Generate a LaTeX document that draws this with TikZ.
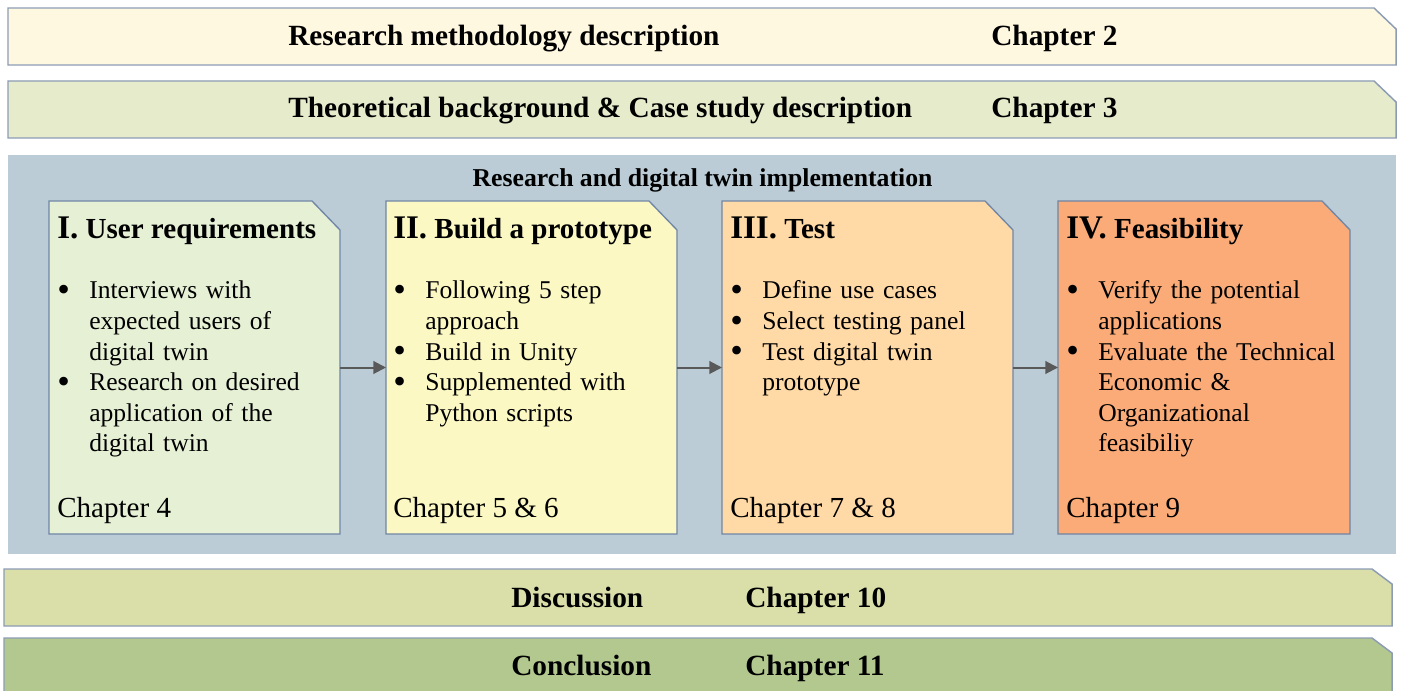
\documentclass[tikz,border=0pt]{standalone}
\usepackage{fontspec}
\setmainfont{Liberation Serif}
\usetikzlibrary{arrows.meta,calc,fit}
\definecolor{barA}{HTML}{FFF8E1}
\definecolor{barB}{HTML}{E6ECCB}
\definecolor{barC}{HTML}{DADFAA}
\definecolor{barD}{HTML}{B3C88F}
\definecolor{panelblue}{HTML}{BBCCD6}
\definecolor{cardA}{HTML}{E6F0D5}
\definecolor{cardB}{HTML}{FBF8C4}
\definecolor{cardC}{HTML}{FFDAA6}
\definecolor{cardD}{HTML}{FAAB78}
\definecolor{barborder}{HTML}{8C9CB5}
\definecolor{cardborder}{HTML}{6F86A6}
\definecolor{arrowgray}{HTML}{595959}
\newcommand{\bul}{\makebox[24pt][l]{\raisebox{-2pt}{\fontsize{27}{27}\selectfont •}}}
\newcommand{\ind}{\hspace*{24pt}}
\tikzset{
  region/.style={inner sep=0pt, outer sep=0pt, draw=none},
  bartitle/.style={anchor=base west, inner sep=0pt, font=\fontsize{22}{26}\selectfont\bfseries},
  paneltitle/.style={anchor=base, inner sep=0pt, font=\fontsize{19.3}{23}\selectfont\bfseries},
  cardtitle/.style={anchor=base west, inner sep=0pt, font=\fontsize{21.8}{26}\selectfont\bfseries},
  body/.style={anchor=base west, inner sep=0pt, align=left, text width=210pt, font=\fontsize{19.2}{22.95}\selectfont},
  chap/.style={anchor=base west, inner sep=0pt, font=\fontsize{21.8}{26}\selectfont},
  barshape/.style={draw=barborder, line width=1.1pt, line join=miter},
  cardshape/.style={draw=cardborder, line width=1pt, line join=miter},
  flow/.style={draw=arrowgray, line width=1.5pt, -{Triangle[length=9.5pt,width=9.5pt]}}
}
\begin{document}
\begin{tikzpicture}[x=0.75pt, y=-0.75pt]
\clip (0,0) rectangle (1401,691);
\fill[white] (0,0) rectangle (1401,691);

% ---- top bars
\node[region, fit={(8,8) (1396,65)}] (bar1) {};
\draw[barshape, fill=barA] (bar1.north west) -- ($(bar1.north east)+(-22,0)$) -- ($(bar1.north east)+(0,21)$) -- (bar1.south east) -- (bar1.south west) -- cycle;
\node[bartitle] (t1) at (288,45.5) {Research methodology description};
\node[bartitle] (c1) at (991,45.5) {Chapter 2};

\node[region, fit={(8,81) (1396,138)}] (bar2) {};
\draw[barshape, fill=barB] (bar2.north west) -- ($(bar2.north east)+(-22,0)$) -- ($(bar2.north east)+(0,21)$) -- (bar2.south east) -- (bar2.south west) -- cycle;
\node[bartitle] (t2) at (288,118) {Theoretical background \& Case study description};
\node[bartitle] (c2) at (991,118) {Chapter 3};

% ---- panel
\node[region, fit={(8,155) (1396,554)}] (panel) {};
\fill[panelblue] (panel.north west) rectangle (panel.south east);
\node[paneltitle] (pt) at (702.5,187) {Research and digital twin implementation};

% ---- cards
\node[region, fit={(49,201) (340,534)}] (card1) {};
\node[region, fit={(386,201) (677,534)}] (card2) {};
\node[region, fit={(722,201) (1013,534)}] (card3) {};
\node[region, fit={(1058,201) (1350,534)}] (card4) {};
\foreach \c/\f in {card1/cardA, card2/cardB, card3/cardC, card4/cardD}{
  \draw[cardshape, fill=\f] (\c.north west) -- ($(\c.north east)+(-28,0)$) -- ($(\c.north east)+(0,29)$) -- (\c.south east) -- (\c.south west) -- cycle;
}

\node[cardtitle] (h1) at (57,239) {{\fontsize{24.75}{26}\selectfont I.} User requirements};
\node[cardtitle] (h2) at (393,239) {{\fontsize{24.75}{26}\selectfont II.} Build a prototype};
\node[cardtitle] (h3) at (730,239) {{\fontsize{24.75}{26}\selectfont III.} Test};
\node[cardtitle] (h4) at (1066,239) {{\fontsize{24.75}{26}\selectfont IV.} Feasibility};

\node[body] (l1) at (57,299) {\bul Interviews with\\ \ind expected users of\\ \ind digital twin\\ \bul Research on desired\\ \ind application of the\\ \ind digital twin};
\node[body] (l2) at (393,299) {\bul Following 5 step\\ \ind approach\\ \bul Build in Unity\\ \bul Supplemented with\\ \ind Python scripts};
\node[body] (l3) at (730,299) {\bul Define use cases\\ \bul Select testing panel\\ \bul Test digital twin\\ \ind prototype};
\node[body] (l4) at (1066,299) {\bul Verify the potential\\ \ind applications\\ \bul Evaluate the Technical\\ \ind Economic \&\\ \ind Organizational\\ \ind feasibiliy};

\node[chap] (ch1) at (57,517) {Chapter 4};
\node[chap] (ch2) at (393,517) {Chapter 5 \& 6};
\node[chap] (ch3) at (730,517) {Chapter 7 \& 8};
\node[chap] (ch4) at (1066,517) {Chapter 9};

\draw[flow] (card1.east) -- (card2.west);
\draw[flow] (card2.east) -- (card3.west);
\draw[flow] (card3.east) -- (card4.west);

% ---- bottom bars
\node[region, fit={(4,569) (1392,626)}] (bar3) {};
\draw[barshape, fill=barC] (bar3.north west) -- ($(bar3.north east)+(-20,0)$) -- ($(bar3.north east)+(0,15)$) -- (bar3.south east) -- (bar3.south west) -- cycle;
\node[bartitle] (t3) at (511,607) {Discussion};
\node[bartitle] (c3) at (745,607) {Chapter 10};

\node[region, fit={(4,638) (1392,702)}] (bar4) {};
\draw[barshape, fill=barD] (bar4.north west) -- ($(bar4.north east)+(-20,0)$) -- ($(bar4.north east)+(0,15)$) -- (bar4.south east) -- (bar4.south west) -- cycle;
\node[bartitle] (t4) at (511,675) {Conclusion};
\node[bartitle] (c4) at (745,675) {Chapter 11};
\end{tikzpicture}
\end{document}
